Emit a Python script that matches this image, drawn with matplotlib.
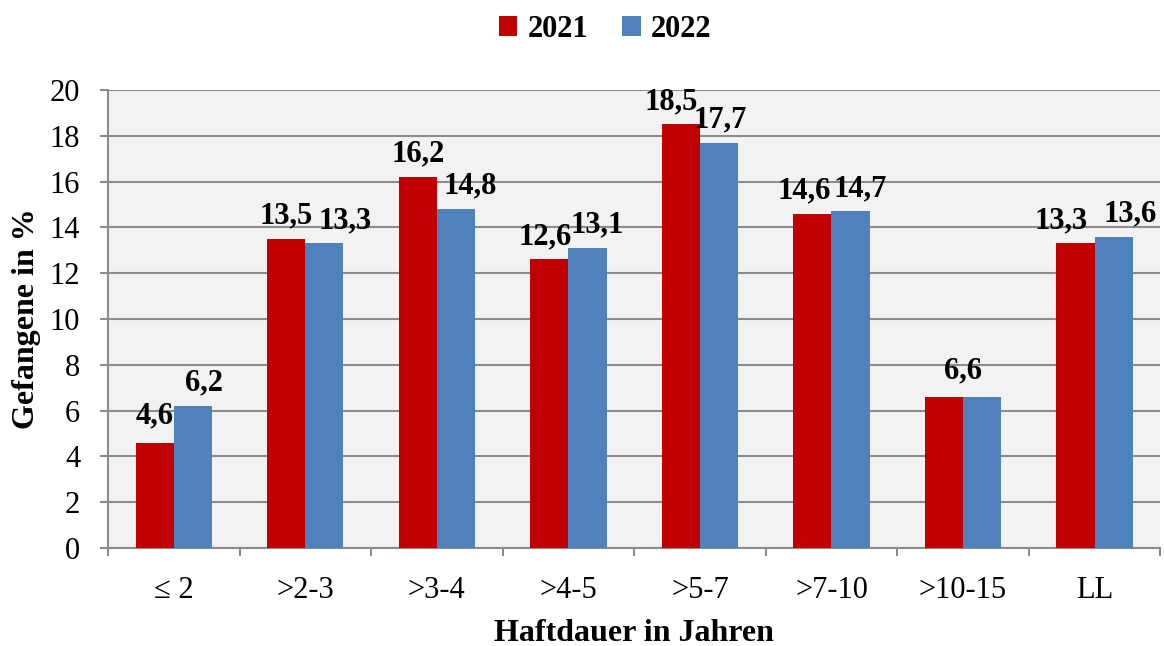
import numpy as np
import matplotlib.pyplot as plt

plt.rcParams["font.family"] = ["Liberation Serif", "DejaVu Serif"]

# data
categories = ["\u2264 2", ">2-3", ">3-4", ">4-5", ">5-7", ">7-10", ">10-15", "LL"]
values_2021 = [4.6, 13.5, 16.2, 12.6, 18.5, 14.6, 6.6, 13.3]
values_2022 = [6.2, 13.3, 14.8, 13.1, 17.7, 14.7, 6.6, 13.6]
series_names = ["2021", "2022"]

# horizontal nudges (points) so that neighbouring value labels don't collide
nudge_2021 = [0, 0, 0, -3, -7, -6, 0, -10]
nudge_2022 = [8, 15, 10, 7, 1, 7, 0, 12]

red = "#c00000"
blue = "#4f81bd"
grid_col = "#8c8c8c"

fig = plt.figure(figsize=(11.64, 6.46), dpi=100)
ax = fig.add_axes([0.0928, 0.1517, 0.904, 0.709])
ax.set_facecolor("#f2f2f2")

x = np.arange(len(categories))
w = 0.29
b1 = ax.bar(x - w / 2, values_2021, w, color=red, label=series_names[0], zorder=3)
b2 = ax.bar(x + w / 2, values_2022, w, color=blue, label=series_names[1], zorder=3)

lab_kw = dict(textcoords="offset points", ha="center", va="baseline",
              fontsize=22, fontweight="bold", zorder=4)

# value labels
for i in range(len(categories)):
    v1, v2 = values_2021[i], values_2022[i]
    if v1 == v2:
        # identical values -> one label in the middle of the group
        ax.annotate(f"{v1:.1f}".replace(".", ","), (x[i], v1), xytext=(0, 13), **lab_kw)
        continue
    dy1 = 14 if v1 < 5 else 11
    ax.annotate(f"{v1:.1f}".replace(".", ","), (x[i] - w / 2, v1),
                xytext=(nudge_2021[i], dy1), **lab_kw)
    ax.annotate(f"{v2:.1f}".replace(".", ","), (x[i] + w / 2, v2),
                xytext=(nudge_2022[i], 11), **lab_kw)

ax.set_xlim(-0.5, len(categories) - 0.5)
ax.set_ylim(0, 20)
ax.set_yticks(range(0, 21, 2))
ax.yaxis.grid(True, color=grid_col, linewidth=1.5, zorder=0)
ax.set_axisbelow(True)

ax.set_xticks(x)
ax.set_xticklabels(categories)
ax.set_xticks(np.arange(-0.5, len(categories), 1), minor=True)
ax.tick_params(axis="x", which="major", length=0, pad=20, labelsize=22)
ax.tick_params(axis="x", which="minor", length=6, width=1.5, color=grid_col)
ax.tick_params(axis="y", length=6, width=1.5, color=grid_col, labelsize=22, pad=14)

for s in ["top", "right"]:
    ax.spines[s].set_visible(False)
for s in ["left", "bottom"]:
    ax.spines[s].set_color(grid_col)
    ax.spines[s].set_linewidth(1.5)

ax.set_ylabel("Gefangene in %", fontsize=23, fontweight="bold", labelpad=6)
ax.set_xlabel("Haftdauer in Jahren", fontsize=23, fontweight="bold", labelpad=10)

fig.legend(handles=[b1, b2], loc="upper center", bbox_to_anchor=(0.52, 1.02), ncol=2,
           frameon=False, prop={"size": 22, "weight": "bold"},
           handlelength=0.6, handleheight=0.6, handletextpad=0.35, columnspacing=1.1)

fig.savefig("out.png", dpi=100)
